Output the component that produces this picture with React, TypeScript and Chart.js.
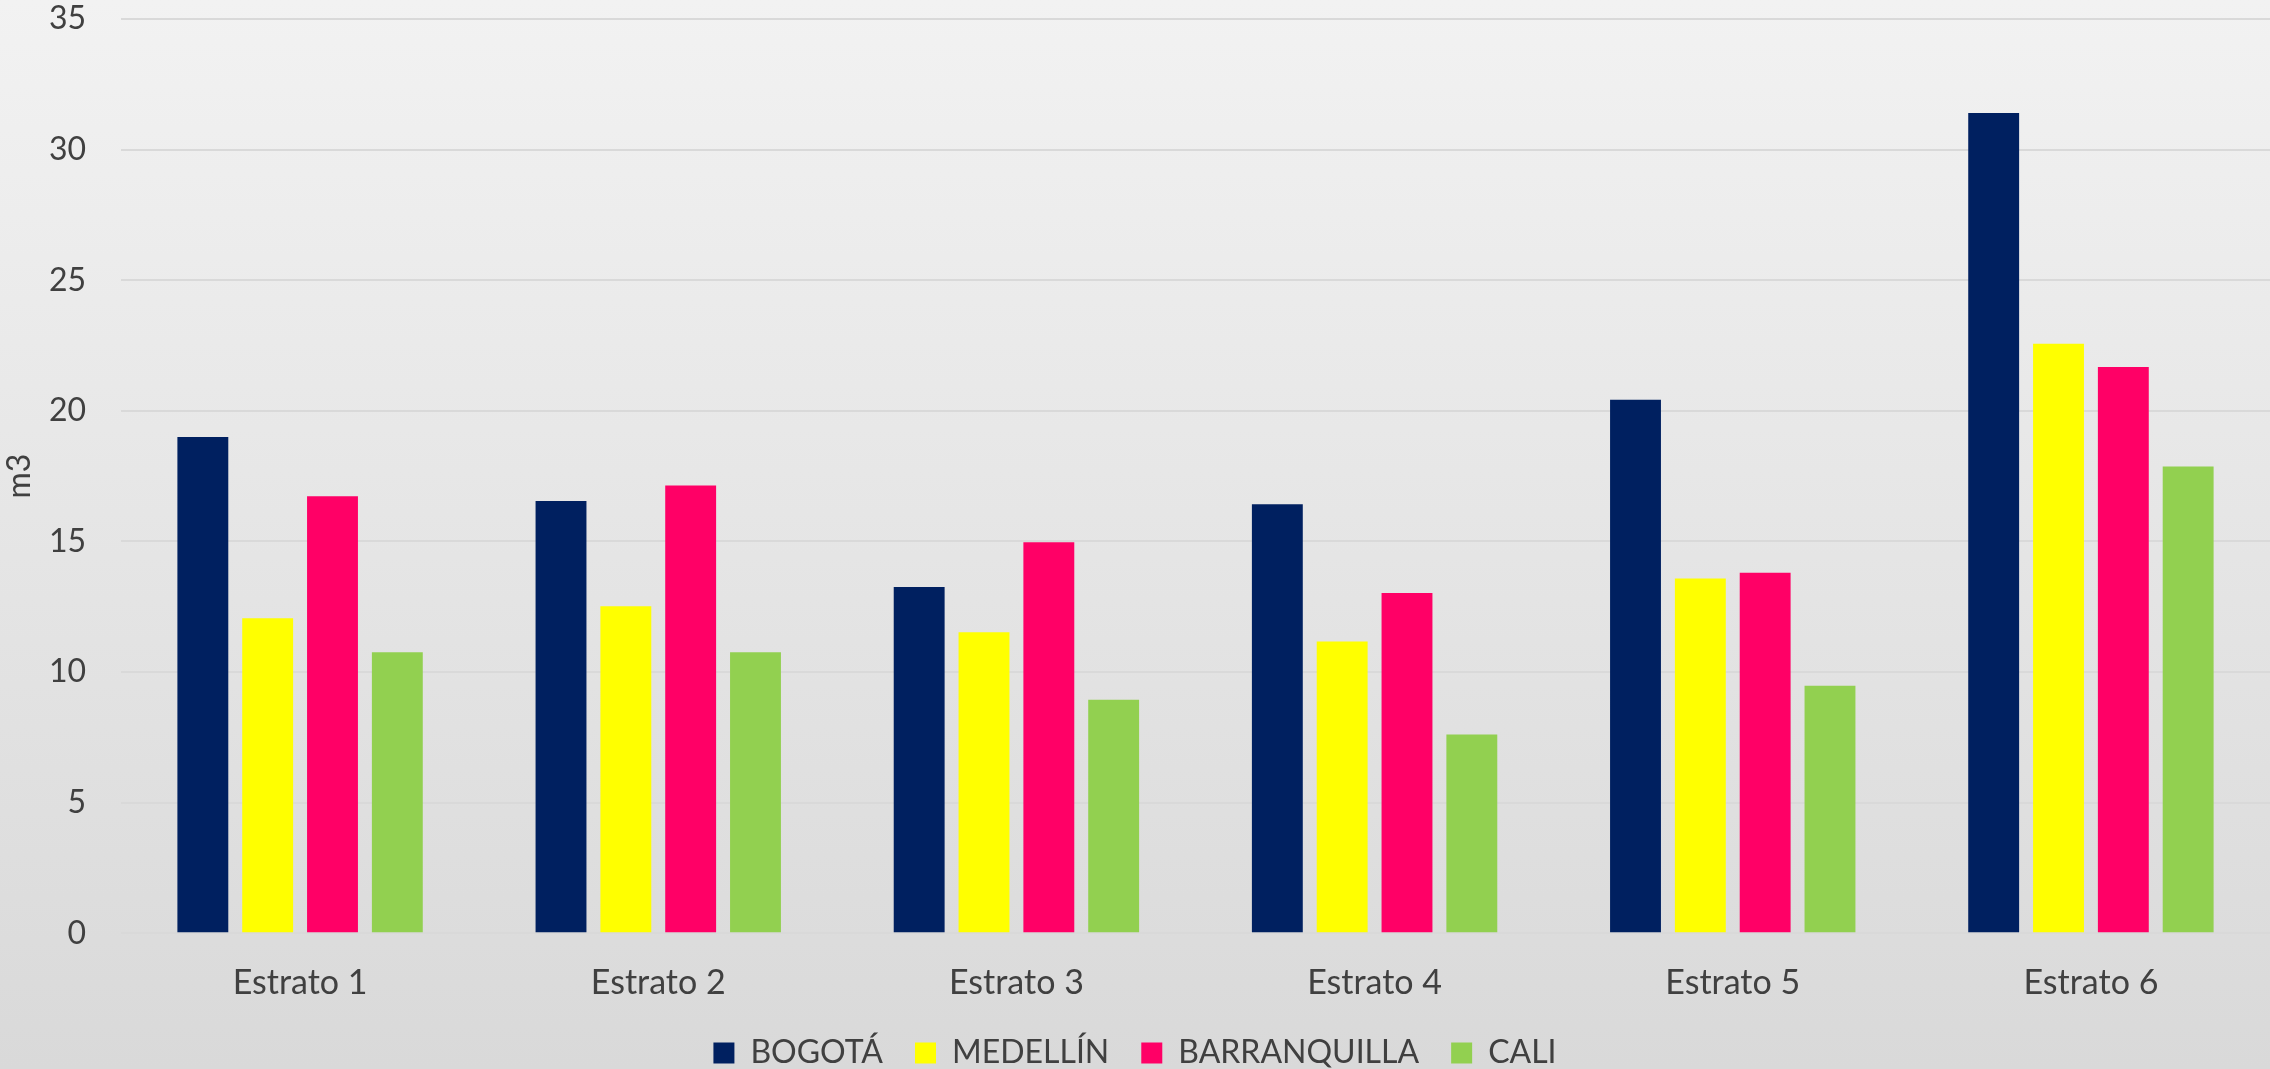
import React, { useEffect, useRef } from "react";
import { Chart, registerables } from "chart.js";

Chart.register(...registerables);

const categories = ["Estrato 1", "Estrato 2", "Estrato 3", "Estrato 4", "Estrato 5", "Estrato 6"];
const seriesNames = ["BOGOTÁ", "MEDELLÍN", "BARRANQUILLA", "CALI"];
const bogota = [19.0, 16.55, 13.25, 16.42, 20.42, 31.4];
const medellin = [12.06, 12.52, 11.52, 11.17, 13.58, 22.57];
const barranquilla = [16.73, 17.14, 14.97, 13.02, 13.8, 21.68];
const cali = [10.76, 10.76, 8.94, 7.61, 9.47, 17.87];
const seriesColors = ["#002060", "#FFFF00", "#FF0066", "#92D050"];
const yTicks = [0, 5, 10, 15, 20, 25, 30, 35];

const W = 2270;
const H = 1069;
const FONT = "Lato, 'Open Sans', sans-serif";
const TEXT = "#404040";

const bgPlugin = {
  id: "bgGradient",
  beforeDraw(chart: any) {
    const ctx = chart.ctx;
    const g = ctx.createLinearGradient(0, 0, 0, chart.height);
    g.addColorStop(0, "#f2f2f2");
    g.addColorStop(1, "#d9d9d9");
    ctx.save();
    ctx.fillStyle = g;
    ctx.fillRect(0, 0, chart.width, chart.height);
    ctx.restore();
  },
};

export default function App() {
  const ref = useRef<HTMLCanvasElement | null>(null);

  useEffect(() => {
    const canvas = ref.current;
    if (!canvas) return;
    const values = [bogota, medellin, barranquilla, cali];
    const chart = new Chart(canvas, {
      type: "bar",
      data: {
        labels: categories,
        datasets: seriesNames.map((name, i) => ({
          label: name,
          data: values[i],
          backgroundColor: seriesColors[i],
          borderWidth: 0,
          categoryPercentage: 0.724,
          barPercentage: 0.785,
        })),
      },
      options: {
        responsive: false,
        maintainAspectRatio: false,
        animation: false,
        layout: { padding: { top: 19, right: 0, left: 0, bottom: -10 } },
        plugins: {
          legend: {
            position: "bottom",
            labels: {
              boxWidth: 21,
              boxHeight: 21,
              padding: 32,
              color: TEXT,
              font: { family: FONT, size: 32 },
            },
          },
          tooltip: { enabled: false },
        },
        scales: {
          x: {
            grid: { display: false, drawTicks: false },
            border: { display: false },
            afterFit(scale: any) {
              scale.height = scale.height - 27;
            },
            ticks: {
              color: TEXT,
              font: { family: FONT, size: 34 },
              padding: 29,
              maxRotation: 0,
            },
          },
          y: {
            min: 0,
            max: 35,
            afterBuildTicks(scale: any) {
              scale.ticks = yTicks.map((v) => ({ value: v }));
            },
            afterFit(scale: any) {
              scale.width = 121;
              scale.paddingTop = 0;
              scale.paddingBottom = 0;
            },
            grid: { color: "#d9d9d9", lineWidth: 2, drawTicks: false },
            border: { display: false },
            ticks: {
              color: TEXT,
              font: { family: FONT, size: 32 },
              padding: 35,
            },
            title: {
              display: true,
              text: "m3",
              color: TEXT,
              font: { family: FONT, size: 32 },
              padding: { top: 0, bottom: 0 },
            },
          },
        },
      },
      plugins: [bgPlugin],
    });
    return () => chart.destroy();
  }, []);

  return (
    <canvas
      ref={ref}
      width={W}
      height={H}
      style={{ position: "fixed", left: 0, top: 0, width: W, height: H, display: "block" }}
    />
  );
}
